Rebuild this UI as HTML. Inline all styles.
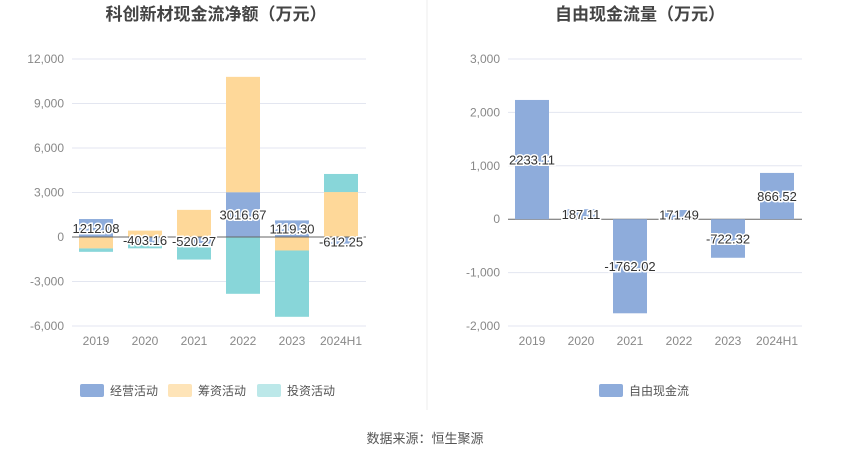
<!DOCTYPE html>
<html><head><meta charset="utf-8"><style>
body{margin:0;background:#fff;font-family:"Liberation Sans","Noto Sans CJK SC",sans-serif}
svg text{font-family:"Liberation Sans","Noto Sans CJK SC",sans-serif}
</style></head><body>
<svg id="c" width="850" height="459">
<line x1="427" y1="0" x2="427" y2="410" stroke="#eeeeee"/>
<text x="216" y="20" text-anchor="middle" font-size="17" font-weight="bold" fill="#444">科创新材现金流净额（万元）</text>
<text x="640" y="20" text-anchor="middle" font-size="17" font-weight="bold" fill="#444">自由现金流量（万元）</text>
<text x="425" y="443" text-anchor="middle" font-size="13" fill="#555">数据来源：恒生聚源</text>
<g id="left"></g><g id="right"></g>
</svg>
<script>
const categories=["2019","2020","2021","2022","2023","2024H1"];
const operating=[1212.08,-403.16,-520.27,3016.67,1119.30,-612.25];
const financing=[-770,430,1830,7780,-910,3030];
const investing=[-230,-360,-1000,-3830,-4470,1220];
const leftTicks=[12000,9000,6000,3000,0,-3000,-6000];
const freeCash=[2233.11,187.11,-1762.02,171.49,-722.32,866.52];
const rightTicks=[3000,2000,1000,0,-1000,-2000];
const NS="http://www.w3.org/2000/svg";
function mk(p,t,a){const e=document.createElementNS(NS,t);for(const k in a)e.setAttribute(k,a[k]);p.appendChild(e);return e;}
function fmt(v){return v.toLocaleString("en-US");}
function axis(g,x0,x1,yTop,yBot,ticks){
 const max=ticks[0],min=ticks[ticks.length-1];
 const y=v=>yTop+(max-v)/(max-min)*(yBot-yTop);
 ticks.forEach(t=>{
  const l=mk(g,"line",{x1:x0,x2:x1,y1:y(t),y2:y(t),stroke:t===0?"#666":"#e3e6f0"});
  
  
  const tx=mk(g,"text",{x:x0-8,y:y(t)+4,"text-anchor":"end","font-size":12,fill:"#888"});tx.textContent=fmt(t);
  
  
 });
 return y;
}
function xlab(g,x,t){const e=mk(g,"text",{x:x,y:345,"text-anchor":"middle","font-size":12,fill:"#888"});e.textContent=t;
 
 }
function valLabel(g,x,y,t){const e=mk(g,"text",{x:x,y:y+5,"text-anchor":"middle","font-size":13,fill:"#333",stroke:"#fff","stroke-width":3,"paint-order":"stroke"});e.textContent=t;
 
 }
function legend(g,x,color,t){const r=mk(g,"rect",{x:x,y:384,width:24,height:13,rx:2,fill:color});
 
 
 const e=mk(g,"text",{x:x+30,y:395,"font-size":12,fill:"#555"});e.textContent=t;
 
 }
// left
const L=document.getElementById("left");
const yl=axis(L,72,366,59,326,leftTicks);
const cols={op:"#8eacdb",fin:"#fed899",inv:"#88d6d9"};
categories.forEach((c,i)=>{
 const cx=96+i*49;let pos=0,neg=0;
 [[operating,cols.op,'bar-operating'],[financing,cols.fin,'bar-financing'],[investing,cols.inv,'bar-investing']].forEach(([arr,col,nm])=>{
  const v=arr[i];let a,b;
  if(v>=0){a=pos;b=pos+v;pos=b;}else{a=neg;b=neg+v;neg=b;}
  const y1=yl(Math.max(a,b)),y2=yl(Math.min(a,b));
  const r=mk(L,"rect",{x:cx-17,y:y1,width:34,height:Math.max(0,y2-y1),fill:col});
  
  
 });
 xlab(L,cx,c);
});
mk(L,"line",{x1:72,x2:366,y1:yl(0),y2:yl(0),stroke:"#666"});
categories.forEach((c,i)=>{const cx=96+i*49;valLabel(L,cx,(yl(0)+yl(operating[i]))/2,operating[i].toFixed(2));});
legend(L,80,cols.op,"经营活动");legend(L,168,"#fee4b8","筹资活动");legend(L,257,"#bce8e9","投资活动");
// right
const R=document.getElementById("right");
const yr=axis(R,508,802,59,326,rightTicks);
categories.forEach((c,i)=>{
 const cx=532+i*49,v=freeCash[i];
 const y1=yr(Math.max(0,v)),y2=yr(Math.min(0,v));
 const r=mk(R,"rect",{x:cx-17,y:y1,width:34,height:y2-y1,fill:"#8eacdb"});
 
 
 xlab(R,cx,c);
});
categories.forEach((c,i)=>{const cx=532+i*49;valLabel(R,cx,(yr(0)+yr(freeCash[i]))/2,freeCash[i].toFixed(2));});
legend(R,599,"#8eacdb","自由现金流");
</script>
</body></html>
